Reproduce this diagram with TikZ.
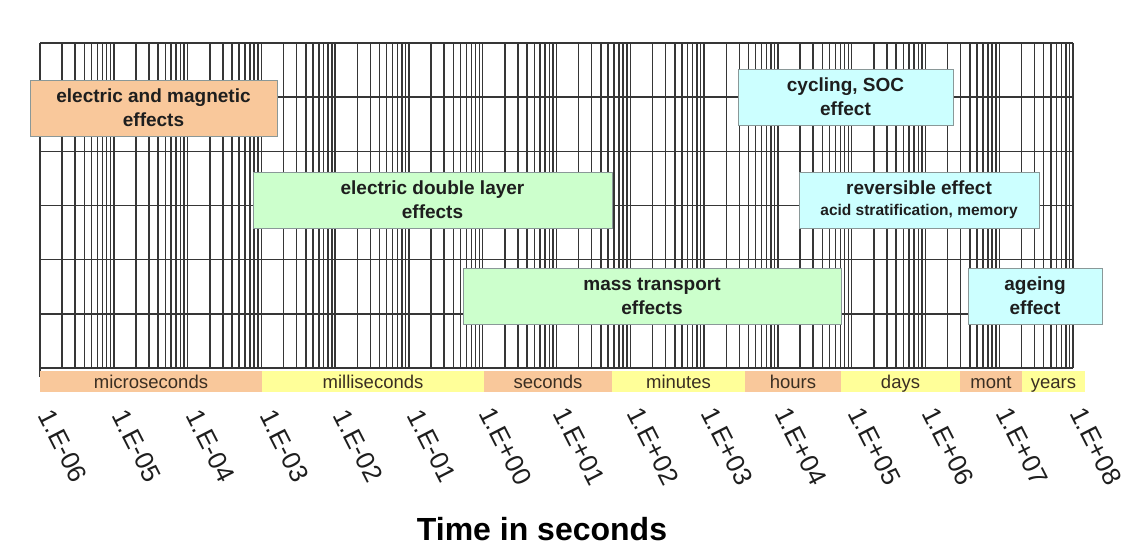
\documentclass[tikz,border=0pt]{standalone}
\usepackage{fontspec}
\setmainfont{Liberation Sans}
\usepackage{tikz}
\definecolor{gridgray}{HTML}{363636}
\definecolor{boxgray}{HTML}{8A9898}
\definecolor{bandorange}{HTML}{F9C89B}
\definecolor{bandyellow}{HTML}{FFFF99}
\definecolor{boxgreen}{HTML}{CCFFCC}
\definecolor{boxcyan}{HTML}{CCFFFF}
\definecolor{inktext}{HTML}{1E1E1E}
\definecolor{bandtext}{HTML}{3A2E22}

\begin{document}
\begin{tikzpicture}[x=1pt, y=-1pt,
  gridline/.style={draw=gridgray, line width=1.5pt},
  effectbox/.style={draw=boxgray, line width=0.8pt, align=center, inner sep=0pt, minimum height=56pt, text=inktext, font=\fontsize{19}{24}\selectfont\bfseries},
  bandlabel/.style={anchor=base, inner sep=0pt, text=bandtext, font=\fontsize{18.5}{20}\selectfont},
  ticklabel/.style={rotate=-63, inner sep=0pt, text=inktext, font=\fontsize{26}{26}\selectfont}] % 整体思路：对数时间轴网格，上方叠放各效应的色块，下方是时间段色带与刻度

  \useasboundingbox[fill=white] (0,0) rectangle (1140,558); % 固定画布大小，与参考图比例一致

  % ======= 对数网格 (14 个十进位, 每个 73.79) =======
  \foreach \d in {0,...,13}{ % 每个十进位
    \foreach \k in {1,...,9}{ % 十进位内 1..9 的对数位置
      \draw[gridline] ({40+73.79*(\d+log10(\k))},43) -- ({40+73.79*(\d+log10(\k))},368);
    }
  }
  \draw[gridline] (1073,43) -- (1073,368); % 最右边界 1.E+08
  \draw[gridline] (40,368) -- (40,377); % 左下角的小刻度
  \foreach \r in {0,...,6}{ % 七条水平线，六行
    \draw[gridline] (40,{43+54.17*\r}) -- (1073,{43+54.17*\r});
  }

  % ======= 时间段色带 =======
  \foreach \a/\b/\c/\t/\n in {40/262/bandorange/microseconds/micro,
                              262/484/bandyellow/milliseconds/milli,
                              484/612/bandorange/seconds/sec,
                              612/745/bandyellow/minutes/min,
                              745/841/bandorange/hours/hour,
                              841/960/bandyellow/days/day,
                              960/1022/bandorange/mont/month,
                              1022/1085/bandyellow/years/year}{
    \fill[\c] (\a,371) rectangle (\b,392); % 色带
    \node[bandlabel] (band-\n) at ({(\a+\b)/2},388.5) {\t}; % 色带文字
  }

  % ======= 刻度文字 (斜放) =======
  \foreach \e/\lab in {0/1.E-06, 1/1.E-05, 2/1.E-04, 3/1.E-03, 4/1.E-02,
                       5/1.E-01, 6/1.E+00, 7/1.E+01, 8/1.E+02, 9/1.E+03,
                       10/1.E+04, 11/1.E+05, 12/1.E+06, 13/1.E+07, 14/1.E+08}{
    \node[ticklabel] (tick\e) at ({40+73.79*\e+23},446) {\lab}; % 文字中心在刻度右下方
  }

  % ======= 各效应色块 =======
  \node[effectbox, fill=bandorange, minimum width=247pt] (elecmag) at (153.5,108) {electric and magnetic\\effects};
  \node[effectbox, fill=boxgreen, minimum width=359pt] (doublelayer) at (432.5,200) {electric double layer\\effects};
  \node[effectbox, fill=boxgreen, minimum width=378pt] (masstrans) at (652,296) {mass transport\\effects};
  \node[effectbox, fill=boxcyan, minimum width=215pt] (cycling) at (845.5,97) {cycling, SOC\\effect};
  \node[effectbox, fill=boxcyan, minimum width=240pt, font=\fontsize{19}{21}\selectfont\bfseries] (reversible) at (919,200) {reversible effect\\{\fontsize{15.5}{21}\selectfont acid stratification, memory}}; % 第二行字号较小
  \node[effectbox, fill=boxcyan, minimum width=134pt] (ageing) at (1035,296) {ageing\\effect};

  % ======= 轴标题 =======
  \node[anchor=base, inner sep=0pt, text=black, font=\fontsize{32}{32}\selectfont\bfseries] (axistitle) at (542,540) {Time in seconds};

\end{tikzpicture}
\end{document}
